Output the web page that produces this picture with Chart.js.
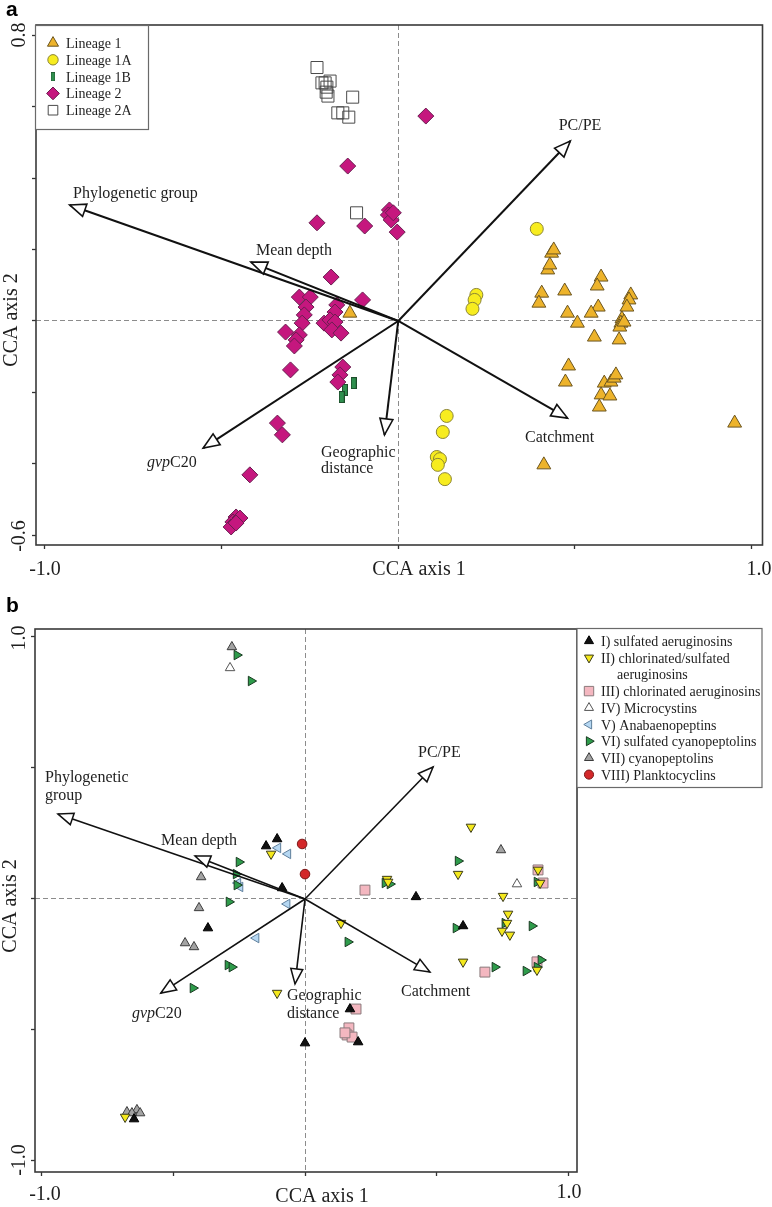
<!DOCTYPE html>
<html><head><meta charset="utf-8">
<script src="https://cdn.jsdelivr.net/npm/chart.js@4/dist/chart.umd.min.js"></script>
<style>
html,body{margin:0;padding:0;background:#fff;width:772px;height:1207px;overflow:hidden;}
canvas{position:absolute;left:0;}
#ca{top:0;} #cb{top:590px;}
</style></head><body>
<canvas id="ca" width="772" height="590"></canvas>
<canvas id="cb" width="772" height="617"></canvas>
<script>
// ===================== DATA: panel a =====================
const lineage1 = [[0.434,0.190],[0.440,0.199],[0.423,0.143],[0.429,0.157],[0.406,0.078],[0.398,0.050],[0.471,0.084],[0.479,0.022],[0.507,-0.006],[0.574,0.123],[0.563,0.098],[0.566,0.039],[0.546,0.022],[0.555,-0.045],[0.658,0.073],[0.653,0.059],[0.647,0.039],[0.633,0.006],[0.630,-0.006],[0.627,-0.017],[0.639,-0.003],[0.625,-0.053],[0.482,-0.126],[0.473,-0.171],[0.583,-0.174],[0.602,-0.171],[0.611,-0.160],[0.616,-0.151],[0.574,-0.207],[0.599,-0.210],[0.569,-0.241],[0.952,-0.286],[0.412,-0.403],[-0.137,0.022]];
const lineage1A = [[0.392,0.258],[0.221,0.073],[0.216,0.059],[0.210,0.034],[0.137,-0.266],[0.126,-0.311],[0.109,-0.381],[0.118,-0.387],[0.112,-0.403],[0.132,-0.443]];
const lineage1B = [[-0.126,-0.174],[-0.151,-0.193],[-0.160,-0.213]];
const lineage2 = [[0.078,0.574],[-0.143,0.434],[-0.230,0.275],[-0.095,0.266],[-0.025,0.311],[-0.028,0.297],[-0.020,0.283],[-0.014,0.303],[-0.003,0.249],[-0.190,0.123],[-0.280,0.067],[-0.249,0.067],[-0.261,0.039],[-0.266,0.017],[-0.272,-0.006],[-0.319,-0.031],[-0.280,-0.039],[-0.289,-0.053],[-0.294,-0.070],[-0.305,-0.137],[-0.174,0.045],[-0.179,0.025],[-0.210,-0.006],[-0.193,0.003],[-0.179,-0.003],[-0.188,-0.025],[-0.162,-0.034],[-0.101,0.059],[-0.157,-0.129],[-0.165,-0.151],[-0.171,-0.171],[-0.342,-0.286],[-0.328,-0.319],[-0.420,-0.431],[-0.459,-0.549],[-0.468,-0.563],[-0.448,-0.552],[-0.473,-0.577],[-0.459,-0.566]];
const lineage2A = [[-0.230,0.710],[-0.216,0.667],[-0.207,0.667],[-0.202,0.655],[-0.204,0.641],[-0.199,0.630],[-0.193,0.672],[-0.129,0.627],[-0.171,0.583],[-0.157,0.583],[-0.140,0.571],[-0.118,0.303]];
const legendA = ['Lineage 1','Lineage 1A','Lineage 1B','Lineage 2','Lineage 2A'];

// environmental vectors (same order in both panels)
const envNames = ['Phylogenetic group','Mean depth','PC/PE','gvpC20','Geographic distance','Catchment'];
const envA = [[-0.930,0.325],[-0.417,0.165],[0.487,0.504],[-0.552,-0.356],[-0.039,-0.319],[0.479,-0.272]];
const envB = [[-0.939,0.324],[-0.418,0.164],[0.487,0.504],[-0.548,-0.359],[-0.038,-0.324],[0.475,-0.279]];

const xTicksA = [-1,-0.5,0,0.5,1];
const yTicksA = [-0.6,-0.4,-0.2,0,0.2,0.4,0.6,0.8];
const xTicksB = [-1,-0.5,0,0.5,1];
const yTicksB = [-1,-0.5,0,0.5,1];

// ===================== DATA: panel b =====================
const sulfAerug = [[-0.148,0.202],[-0.106,0.229],[-0.087,0.042],[-0.369,-0.111],[-0.650,-0.840],[0.171,-0.420],[0.202,-0.546],[0.000,-0.550],[0.422,0.008],[0.601,-0.103]];
const chlorSulfAerug = [[-0.129,0.172],[-0.684,-0.832],[-0.106,-0.359],[0.137,-0.092],[0.312,0.076],[0.316,0.065],[0.631,0.275],[0.582,0.095],[0.886,0.111],[0.894,0.061],[0.753,0.011],[0.772,-0.057],[0.768,-0.092],[0.749,-0.122],[0.779,-0.137],[0.601,-0.240],[0.882,-0.271]];
const chlorAerug = [[0.194,-0.420],[0.167,-0.492],[0.160,-0.519],[0.179,-0.527],[0.152,-0.511],[0.228,0.034],[0.886,0.111],[0.905,0.061],[0.684,-0.279],[0.882,-0.240]];
const microcystins = [[-0.285,0.882],[0.806,0.057]];
const anabaenopeptins = [[-0.103,0.195],[-0.065,0.172],[-0.255,0.061],[-0.247,0.046],[-0.068,-0.019],[-0.186,-0.149]];
const sulfCyanopeptolins = [[-0.259,0.931],[-0.205,0.832],[-0.251,0.141],[-0.262,0.095],[-0.259,0.053],[-0.289,-0.011],[-0.293,-0.252],[-0.278,-0.260],[-0.426,-0.340],[0.163,-0.164],[0.304,0.061],[0.323,0.057],[0.582,0.145],[0.882,0.065],[0.760,-0.092],[0.863,-0.103],[0.574,-0.111],[0.722,-0.260],[0.840,-0.275],[0.897,-0.233],[0.882,-0.260]];
const cyanopeptolins = [[-0.278,0.962],[-0.395,0.084],[-0.403,-0.034],[-0.456,-0.168],[-0.422,-0.183],[-0.677,-0.813],[-0.639,-0.805],[-0.627,-0.817],[-0.658,-0.817],[0.745,0.187]];
const planktocyclins = [[-0.011,0.210],[0.000,0.095]];
const legendB = ['I) sulfated aeruginosins','II) chlorinated/sulfated|aeruginosins','III) chlorinated aeruginosins','IV) Microcystins','V) Anabaenopeptins','VI) sulfated cyanopeptolins','VII) cyanopeptolins','VIII) Planktocyclins'];

// ===================== helpers =====================
const SERIF = '"Liberation Serif","Times New Roman",serif';
const SANS = '"Liberation Sans",Arial,sans-serif';
Chart.defaults.font.family = SERIF;
const toXY = arr => arr.map(p => ({x:p[0], y:p[1]}));

function rectImg(w,h,fill,stroke){
  const c=document.createElement('canvas'); c.width=w; c.height=h;
  const g=c.getContext('2d'); g.fillStyle=fill; g.fillRect(0,0,w,h);
  g.strokeStyle=stroke; g.lineWidth=1; g.strokeRect(0.5,0.5,w-1,h-1); return c;
}

function marker(ctx, st, x, y, scale){
  const r = st.r*(scale||1);
  ctx.save();
  ctx.fillStyle = st.fill; ctx.strokeStyle = st.stroke; ctx.lineWidth = st.bw||1;
  if (typeof st.style === 'object') {
    const w = st.style.width*(scale||1), h = st.style.height*(scale||1);
    ctx.drawImage(st.style, x-w/2, y-h/2, w, h); ctx.restore(); return;
  }
  let rad = (st.rot||0)*Math.PI/180;
  ctx.beginPath();
  if (st.style==='circle') { ctx.arc(x,y,r,0,Math.PI*2); }
  else if (st.style==='triangle') {
    for (let i=0;i<3;i++){ const a=rad+i*2*Math.PI/3; const px=x+Math.sin(a)*r, py=y-Math.cos(a)*r; i?ctx.lineTo(px,py):ctx.moveTo(px,py);} ctx.closePath();
  } else if (st.style==='rect') { const s=Math.SQRT1_2*r; ctx.rect(x-s,y-s,2*s,2*s); }
  else if (st.style==='rectRot') { ctx.moveTo(x,y-r); ctx.lineTo(x+r,y); ctx.lineTo(x,y+r); ctx.lineTo(x-r,y); ctx.closePath(); }
  ctx.fill(); ctx.stroke(); ctx.restore();
}

function scaleCfg(min,max,ticks,isY){
  return {
    type:'linear', min, max, position: isY?'left':'bottom',
    afterBuildTicks: s => { s.ticks = ticks.map(v=>({value:v})); },
    afterFit: s => { if (isY) s.width = 4; else s.height = 4; },
    ticks:{display:false},
    grid:{drawOnChartArea:true, drawTicks:true, tickLength:4, tickWidth:1.3, tickColor:'#333', lineWidth:1,
      color: c => (c.tick && Math.abs(c.tick.value)<1e-9) ? '#8c8c8c' : 'rgba(0,0,0,0)'},
    border:{display:false, dash:[5,3]}
  };
}

function seriesDs(arr, st, label, order){
  return {type:'scatter', label, data:toXY(arr), pointStyle:st.style, pointRotation:st.rot||0,
    pointRadius:st.r, pointHoverRadius:st.r, pointBackgroundColor:st.fill, pointBorderColor:st.stroke,
    pointBorderWidth:st.bw||1, showLine:false, order, clip:false};
}
function envDs(env, bw){
  return env.map((v,i)=>({type:'line', label:envNames[i], data:[{x:0,y:0},{x:v[0],y:v[1]}], borderColor:'#111',
    borderWidth:bw, pointRadius:0, pointHoverRadius:0, fill:false, showLine:true, tension:0, order:-1}));
}

function drawText(ctx, t){
  ctx.save();
  ctx.fillStyle = t.color || '#1e1e1e';
  ctx.textBaseline = 'alphabetic';
  const font = (it)=> (it?'italic ':'') + (t.bold?'bold ':'') + t.size+'px '+(t.family||SERIF);
  ctx.translate(t.x, t.y);
  if (t.rot) ctx.rotate(-Math.PI/2);
  const parts = t.parts || [{s:t.s}];
  let total = 0;
  parts.forEach(p=>{ ctx.font = font(p.it); p.w = ctx.measureText(p.s).width; total += p.w; });
  let x0 = t.align==='center' ? -total/2 : (t.align==='right' ? -total : 0);
  parts.forEach(p=>{ ctx.font = font(p.it); ctx.textAlign='left'; ctx.fillText(p.s, x0, 0); x0 += p.w; });
  ctx.restore();
}

function arrowHead(ctx,x0,y0,x1,y1,L,W,lw){
  const dx=x1-x0, dy=y1-y0, d=Math.hypot(dx,dy), ux=dx/d, uy=dy/d;
  const bx=x1-ux*L, by=y1-uy*L;
  ctx.save(); ctx.beginPath(); ctx.moveTo(x1,y1);
  ctx.lineTo(bx-uy*W, by+ux*W); ctx.lineTo(bx+uy*W, by-ux*W); ctx.closePath();
  ctx.fillStyle='#fff'; ctx.fill(); ctx.lineWidth=lw; ctx.strokeStyle='#111'; ctx.lineJoin='miter'; ctx.stroke(); ctx.restore();
}

function makeDecor(cfg){
  return { id:'decor'+cfg.id,
    afterDatasetsDraw(chart){
      const {ctx, chartArea:a, scales:{x,y}} = chart;
      const ox=x.getPixelForValue(0), oy=y.getPixelForValue(0);
      cfg.env.forEach(v=> arrowHead(ctx, ox, oy, x.getPixelForValue(v[0]), y.getPixelForValue(v[1]), cfg.headL, cfg.headW, cfg.headLw));
      // frame
      ctx.save(); ctx.strokeStyle='#3a3a3a'; ctx.lineWidth=1.6;
      ctx.strokeRect(a.left, a.top, a.right-a.left, a.bottom-a.top); ctx.restore();
      // legend
      const lg = cfg.legend;
      ctx.save(); ctx.fillStyle='#fff'; ctx.fillRect(lg.box[0],lg.box[1],lg.box[2],lg.box[3]);
      ctx.strokeStyle='#6a6a6a'; ctx.lineWidth=1.2; ctx.strokeRect(lg.box[0],lg.box[1],lg.box[2],lg.box[3]); ctx.restore();
      let row = 0;
      lg.labels.forEach((lab,i)=>{
        const lines = lab.split('|');
        const yc = lg.y0 + row*lg.dy;
        marker(ctx, lg.styles[i], lg.mx, yc, lg.mscale);
        lines.forEach((ln,j)=> drawText(ctx,{s:ln, x: j? lg.tx2 : lg.tx, y: yc + (row+j-row)*lg.dy + j*0 + 5 + 0, size:lg.size}));
        if (lines.length>1) { /* continuation line drawn on next row */ }
        row += lines.length;
      });
      cfg.texts.forEach(t=>drawText(ctx,t));
    }
  };
}

// ===================== styles =====================
const stA = {
  l1:{style:'triangle', r:8, fill:'#edb32b', stroke:'#6b5520', bw:1},
  l1A:{style:'circle', r:6.5, fill:'#f7ec1f', stroke:'#8c8535', bw:1},
  l1B:{style:rectImg(6,12,'#2f8f4e','#1d4d2b'), r:6, fill:'#2f8f4e', stroke:'#1d4d2b', bw:1},
  l2:{style:'rectRot', r:8, fill:'#c5177e', stroke:'#6a1e50', bw:1},
  l2A:{style:'rect', r:8.5, fill:'rgba(255,255,255,0)', stroke:'#4a4a4a', bw:1}
};
const stB = {
  I:{style:'triangle', r:5.5, fill:'#111111', stroke:'#000', bw:1},
  II:{style:'triangle', rot:180, r:5.5, fill:'#f4e81c', stroke:'#3a3a1a', bw:1},
  III:{style:'rect', r:7, fill:'#f4b7c0', stroke:'#8a7a7c', bw:1},
  IV:{style:'triangle', r:5.5, fill:'#ffffff', stroke:'#555', bw:1},
  V:{style:'triangle', rot:270, r:5.5, fill:'#b5d7f2', stroke:'#5f7f9c', bw:1},
  VI:{style:'triangle', rot:90, r:5.5, fill:'#2e9c4b', stroke:'#1a3a22', bw:1},
  VII:{style:'triangle', r:5.5, fill:'#a3a3a3', stroke:'#3c3c3c', bw:1},
  VIII:{style:'circle', r:4.8, fill:'#d3282a', stroke:'#7a1515', bw:1}
};

// ===================== chart a =====================
const cfgA = {
  id:'A', env:envA, headL:16, headW:6.5, headLw:1.6,
  legend:{box:[35.5,25.5,113,104], labels:legendA, styles:[stA.l1,stA.l1A,stA.l1B,stA.l2,stA.l2A], mscale:0.8,
    mx:53, tx:66, tx2:66, y0:43, dy:16.8, size:14},
  texts:[
    {s:'a', x:6, y:16, size:21, bold:true, family:SANS, color:'#000'},
    {s:'0.8', x:25, y:35, size:20, rot:true, align:'center'},
    {s:'-0.6', x:25, y:536, size:20, rot:true, align:'center'},
    {s:'CCA axis 2', x:17, y:320, size:20, rot:true, align:'center'},
    {s:'-1.0', x:45, y:575, size:20, align:'center'},
    {s:'1.0', x:759, y:575, size:20, align:'center'},
    {s:'CCA axis 1', x:419, y:575, size:20, align:'center'},
    {s:'Phylogenetic group', x:73, y:198, size:16},
    {s:'Mean depth', x:256, y:255, size:16},
    {s:'PC/PE', x:580, y:130, size:16, align:'center'},
    {parts:[{s:'gvp',it:true},{s:'C20'}], x:147, y:467, size:16},
    {s:'Geographic', x:321, y:457, size:16},
    {s:'distance', x:321, y:473, size:16},
    {s:'Catchment', x:525, y:442, size:16}
  ]
};
new Chart(document.getElementById('ca'), {
  type:'scatter',
  data:{datasets:[
    ...envDs(envA, 2),
    seriesDs(lineage1, stA.l1, legendA[0], 5),
    seriesDs(lineage1A, stA.l1A, legendA[1], 4),
    seriesDs(lineage1B, stA.l1B, legendA[2], 3),
    seriesDs(lineage2, stA.l2, legendA[3], 2),
    seriesDs(lineage2A, stA.l2A, legendA[4], 1)
  ]},
  options:{
    responsive:false, animation:false, devicePixelRatio:1, events:[],
    layout:{padding:{left:32, top:25, right:2, bottom:41}},
    plugins:{legend:{display:false}, tooltip:{enabled:false}},
    scales:{ x:scaleCfg(-1.0252,1.0308,xTicksA,false), y:scaleCfg(-0.6275,0.8291,yTicksA,true) }
  },
  plugins:[makeDecor(cfgA)]
});

// ===================== chart b =====================
const cfgB = {
  id:'B', env:envB, headL:15, headW:6, headLw:1.5,
  legend:{box:[577,38.5,185,159], labels:legendB, styles:[stB.I,stB.II,stB.III,stB.IV,stB.V,stB.VI,stB.VII,stB.VIII], mscale:0.95,
    mx:589, tx:601, tx2:617, y0:51, dy:16.7, size:14},
  texts:[
    {s:'b', x:6, y:22, size:21, bold:true, family:SANS, color:'#000'},
    {s:'1.0', x:25, y:48, size:20, rot:true, align:'center'},
    {s:'-1.0', x:25, y:570, size:20, rot:true, align:'center'},
    {s:'CCA axis 2', x:16, y:316, size:20, rot:true, align:'center'},
    {s:'-1.0', x:45, y:610, size:20, align:'center'},
    {s:'1.0', x:569, y:608, size:20, align:'center'},
    {s:'CCA axis 1', x:322, y:612, size:20, align:'center'},
    {s:'Phylogenetic', x:45, y:192, size:16},
    {s:'group', x:45, y:210, size:16},
    {s:'Mean depth', x:161, y:255, size:16},
    {s:'PC/PE', x:418, y:167, size:16},
    {parts:[{s:'gvp',it:true},{s:'C20'}], x:132, y:428, size:16},
    {s:'Geographic', x:287, y:410, size:16},
    {s:'distance', x:287, y:428, size:16},
    {s:'Catchment', x:401, y:406, size:16}
  ]
};
new Chart(document.getElementById('cb'), {
  type:'scatter',
  data:{datasets:[
    ...envDs(envB, 1.6),
    seriesDs(sulfAerug, stB.I, legendB[0], 1),
    seriesDs(chlorSulfAerug, stB.II, legendB[1].replace('|',' '), 2),
    seriesDs(chlorAerug, stB.III, legendB[2], 8),
    seriesDs(microcystins, stB.IV, legendB[3], 4),
    seriesDs(anabaenopeptins, stB.V, legendB[4], 5),
    seriesDs(sulfCyanopeptolins, stB.VI, legendB[5], 3),
    seriesDs(cyanopeptolins, stB.VII, legendB[6], 6),
    seriesDs(planktocyclins, stB.VIII, legendB[7], 7)
  ]},
  options:{
    responsive:false, animation:false, devicePixelRatio:1, events:[],
    layout:{padding:{left:31, top:39, right:195, bottom:31}},
    plugins:{legend:{display:false}, tooltip:{enabled:false}},
    scales:{ x:scaleCfg(-1.0266,1.0342,xTicksB,false), y:scaleCfg(-1.042,1.0305,yTicksB,true) }
  },
  plugins:[makeDecor(cfgB)]
});
</script>
</body></html>
